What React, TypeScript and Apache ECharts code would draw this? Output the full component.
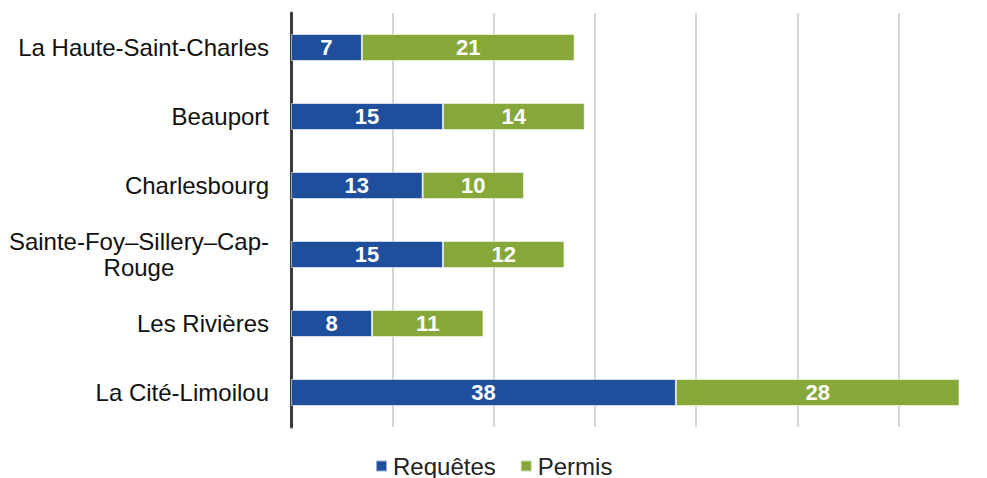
import React, { useEffect, useRef } from "react";
import * as echarts from "echarts";

const categories = [
  "La Haute-Saint-Charles",
  "Beauport",
  "Charlesbourg",
  "Sainte-Foy–Sillery–Cap-Rouge",
  "Les Rivières",
  "La Cité-Limoilou",
];
const requetes = [7, 15, 13, 15, 8, 38];
const permis = [21, 14, 10, 12, 11, 28];
const seriesNames = ["Requêtes", "Permis"];

const FONT = "'Liberation Sans', Arial, Helvetica, sans-serif";

export default function App() {
  const ref = useRef<HTMLDivElement>(null);
  useEffect(() => {
    if (!ref.current) return;
    const chart = echarts.init(ref.current, null, { renderer: "svg" });
    const labelStyle = {
      show: true,
      position: "inside",
      color: "#ffffff",
      fontWeight: "bold",
      fontSize: 22,
      fontFamily: FONT,
    };
    chart.setOption({
      animation: false,
      backgroundColor: "#ffffff",
      textStyle: { fontFamily: FONT },
      grid: { left: 291, right: 0, top: 13, bottom: 51, containLabel: false },
      legend: {
        top: 453,
        left: 375,
        padding: 0,
        itemWidth: 11,
        itemHeight: 11,
        itemGap: 24,
        icon: "rect",
        textStyle: { fontSize: 24, lineHeight: 26, color: "#222", fontFamily: FONT, padding: [0, 0, 0, 1] },
        data: seriesNames,
      },
      xAxis: {
        type: "value",
        min: 0,
        max: 70,
        interval: 10,
        axisLabel: { show: false },
        axisLine: { show: false },
        axisTick: { show: false },
        splitLine: { show: true, lineStyle: { color: "#c8c8c8", width: 1.5 } },
      },
      yAxis: {
        type: "category",
        inverse: true,
        data: categories,
        axisLine: { show: true, lineStyle: { color: "#3a3a3a", width: 3 } },
        axisTick: { show: false },
        axisLabel: {
          margin: 22,
          fontSize: 24,
          color: "#111",
          fontFamily: FONT,
          align: "right",
          formatter: (v: string) => {
            if (v === "Sainte-Foy–Sillery–Cap-Rouge") {
              return "{a|Sainte-Foy–Sillery–Cap-}\n{c|Rouge}";
            }
            return v;
          },
          rich: {
            a: { fontSize: 24, color: "#111", fontFamily: FONT, lineHeight: 26 },
            c: { fontSize: 24, color: "#111", fontFamily: FONT, lineHeight: 26, align: "center" },
          },
        },
      },
      series: [
        {
          name: seriesNames[0],
          type: "bar",
          stack: "total",
          barWidth: 27,
          data: requetes,
          itemStyle: { color: "#1F4E9C", borderColor: "rgba(255,255,255,0.55)", borderWidth: 1 },
          label: labelStyle,
        },
        {
          name: seriesNames[1],
          type: "bar",
          stack: "total",
          barWidth: 27,
          data: permis,
          itemStyle: { color: "#86A83A", borderColor: "rgba(255,255,255,0.55)", borderWidth: 1 },
          label: labelStyle,
        },
      ],
    });
    return () => chart.dispose();
  }, []);
  return (
    <div style={{ position: "fixed", left: 0, top: 0, width: 987, height: 478, overflow: "hidden", background: "#fff" }}>
      <div ref={ref} style={{ width: 1000, height: 478 }} />
    </div>
  );
}
